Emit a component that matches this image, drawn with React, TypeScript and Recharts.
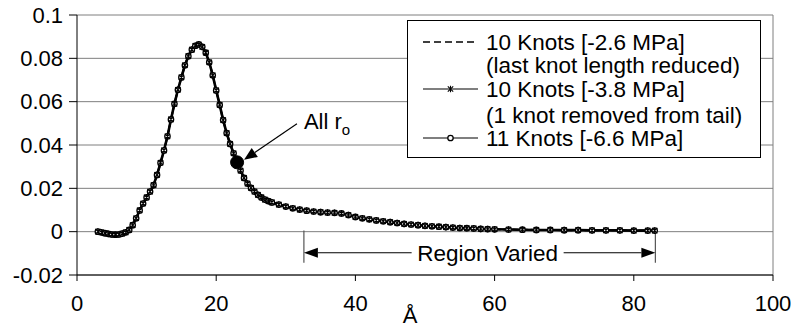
import React from 'react';
import {
  ComposedChart,
  Line,
  XAxis,
  YAxis,
  CartesianGrid,
  Legend,
  ReferenceLine,
  Label,
} from 'recharts';

const FONT = '"Liberation Sans", Arial, Helvetica, sans-serif';

// Distance (Å)
const angstrom = [
  3, 3.5, 4, 4.5, 5, 5.5, 6, 6.5, 7, 7.5,
  8, 8.5, 9, 9.5, 10, 10.5, 11, 11.5, 12, 12.5,
  13, 13.5, 14, 14.5, 15, 15.5, 16, 16.5, 17, 17.5,
  18, 18.5, 19, 19.5, 20, 20.5, 21, 21.5, 22, 22.5,
  23, 23.5, 24, 24.5, 25, 25.5, 26, 26.5, 27, 27.5,
  28, 29, 30, 31, 32, 33, 34, 35, 36, 37,
  38, 39, 40, 41, 42, 43, 44, 45, 46, 47,
  48, 49, 50, 51, 52, 53, 54, 55, 56, 57,
  58, 59, 60, 62, 64, 66, 68, 70, 72, 74,
  76, 78, 80, 82, 83,
];

// Values (the three curves overlap completely)
const knots10Reduced = [
  0.0, -0.0003, -0.0007, -0.001, -0.0013, -0.0014, -0.0013, -0.0009, -0.0003, 0.0008,
  0.003, 0.0062, 0.0098, 0.013, 0.0158, 0.0185, 0.0215, 0.0262, 0.0318, 0.0375,
  0.044, 0.0518, 0.059, 0.0655, 0.0712, 0.0768, 0.081, 0.084, 0.0858, 0.0864,
  0.0853, 0.0826, 0.0782, 0.0722, 0.0652, 0.0585, 0.0515, 0.0455, 0.0405, 0.0362,
  0.032, 0.0282, 0.0248, 0.0222, 0.0202, 0.0185, 0.017, 0.0158, 0.0148, 0.0141,
  0.0135, 0.0125, 0.0116, 0.0108, 0.0102, 0.0097, 0.0093, 0.009, 0.0088, 0.0087,
  0.0084, 0.0077, 0.0068, 0.0062, 0.0057, 0.0052, 0.0048, 0.0044, 0.004, 0.0036,
  0.0033, 0.003, 0.0027, 0.0025, 0.0023, 0.0021, 0.0019, 0.0017, 0.0016, 0.0015,
  0.0013, 0.0012, 0.0011, 0.001, 0.0009, 0.0008, 0.0008, 0.0007, 0.0007, 0.0006,
  0.0006, 0.0006, 0.0005, 0.0005, 0.0005,
];
const knots10Removed = [
  0.0, -0.0003, -0.0007, -0.001, -0.0013, -0.0014, -0.0013, -0.0009, -0.0003, 0.0008,
  0.003, 0.0062, 0.0098, 0.013, 0.0158, 0.0185, 0.0215, 0.0262, 0.0318, 0.0375,
  0.044, 0.0518, 0.059, 0.0655, 0.0712, 0.0768, 0.081, 0.084, 0.0858, 0.0864,
  0.0853, 0.0826, 0.0782, 0.0722, 0.0652, 0.0585, 0.0515, 0.0455, 0.0405, 0.0362,
  0.032, 0.0282, 0.0248, 0.0222, 0.0202, 0.0185, 0.017, 0.0158, 0.0148, 0.0141,
  0.0135, 0.0125, 0.0116, 0.0108, 0.0102, 0.0097, 0.0093, 0.009, 0.0088, 0.0087,
  0.0084, 0.0077, 0.0068, 0.0062, 0.0057, 0.0052, 0.0048, 0.0044, 0.004, 0.0036,
  0.0033, 0.003, 0.0027, 0.0025, 0.0023, 0.0021, 0.0019, 0.0017, 0.0016, 0.0015,
  0.0013, 0.0012, 0.0011, 0.001, 0.0009, 0.0008, 0.0008, 0.0007, 0.0007, 0.0006,
  0.0006, 0.0006, 0.0005, 0.0005, 0.0005,
];
const knots11 = [
  0.0, -0.0003, -0.0007, -0.001, -0.0013, -0.0014, -0.0013, -0.0009, -0.0003, 0.0008,
  0.003, 0.0062, 0.0098, 0.013, 0.0158, 0.0185, 0.0215, 0.0262, 0.0318, 0.0375,
  0.044, 0.0518, 0.059, 0.0655, 0.0712, 0.0768, 0.081, 0.084, 0.0858, 0.0864,
  0.0853, 0.0826, 0.0782, 0.0722, 0.0652, 0.0585, 0.0515, 0.0455, 0.0405, 0.0362,
  0.032, 0.0282, 0.0248, 0.0222, 0.0202, 0.0185, 0.017, 0.0158, 0.0148, 0.0141,
  0.0135, 0.0125, 0.0116, 0.0108, 0.0102, 0.0097, 0.0093, 0.009, 0.0088, 0.0087,
  0.0084, 0.0077, 0.0068, 0.0062, 0.0057, 0.0052, 0.0048, 0.0044, 0.004, 0.0036,
  0.0033, 0.003, 0.0027, 0.0025, 0.0023, 0.0021, 0.0019, 0.0017, 0.0016, 0.0015,
  0.0013, 0.0012, 0.0011, 0.001, 0.0009, 0.0008, 0.0008, 0.0007, 0.0007, 0.0006,
  0.0006, 0.0006, 0.0005, 0.0005, 0.0005,
];

const xTicks = [0, 20, 40, 60, 80, 100];
const yTicks = [-0.02, 0, 0.02, 0.04, 0.06, 0.08, 0.1];

const legendLines = [
  ['10 Knots [-2.6 MPa]', '(last knot length reduced)'],
  ['10 Knots [-3.8 MPa]', '(1 knot removed from tail)'],
  ['11 Knots [-6.6 MPa]'],
];

// The highlighted "All r_o" point lies on the curve at x = 23 Å
const allRoX = 23;
const allRoArrow = [{ x: 31.6, y: 0.0498 }, { x: 24.0, y: 0.0332 }];
const regionVaried = { from: 32.6, to: 83.1, top: 0.0005, bottom: -0.0143, arrowY: -0.0097 };

const data = angstrom.map((x, i) => ({
  x,
  a: knots10Reduced[i],
  b: knots10Removed[i],
  c: knots11[i],
}));

const CircleDot = (props: any) => {
  const { cx, cy, index, payload } = props;
  if (cx == null || cy == null) return null;
  if (payload && payload.x === allRoX) {
    return <circle key={`c${index}`} cx={cx} cy={cy} r={6.5} fill="#000" stroke="#000" />;
  }
  return (
    <circle key={`c${index}`} cx={cx} cy={cy} r={2.7} fill="#fff" stroke="#000" strokeWidth={1.3} />
  );
};

const StarDot = (props: any) => {
  const { cx, cy, index } = props;
  if (cx == null || cy == null) return null;
  const s = 2.7;
  return (
    <path
      key={`s${index}`}
      d={`M${cx - s},${cy - s}L${cx + s},${cy + s}M${cx - s},${cy + s}L${cx + s},${cy - s}M${cx},${cy - s - 0.6}L${cx},${cy + s + 0.6}`}
      stroke="#000"
      strokeWidth={1.1}
      fill="none"
    />
  );
};

const PointerArrow = (props: any) => {
  const { x1, y1, x2, y2 } = props;
  const ang = Math.atan2(y2 - y1, x2 - x1);
  const L = 13;
  const W = 5.5;
  const bx = x2 - L * Math.cos(ang);
  const by = y2 - L * Math.sin(ang);
  const px = -Math.sin(ang) * W;
  const py = Math.cos(ang) * W;
  return (
    <g>
      <line x1={x1} y1={y1} x2={bx} y2={by} stroke="#000" strokeWidth={1.2} />
      <polygon points={`${x2},${y2} ${bx + px},${by + py} ${bx - px},${by - py}`} fill="#000" />
      <text x={x1 + 7} y={y1 + 5} fontSize={22} fontFamily={FONT} fill="#000">
        All r
        <tspan fontSize={15} dy={6}>o</tspan>
      </text>
    </g>
  );
};

const SpanArrow = (props: any) => {
  const { x1, y1, x2 } = props;
  const L = 14;
  const W = 5;
  const cx = (x1 + x2) / 2 + 8;
  const gap = 76;
  return (
    <g>
      <line x1={x1 + L} y1={y1} x2={cx - gap} y2={y1} stroke="#000" strokeWidth={1.1} />
      <line x1={cx + gap} y1={y1} x2={x2 - L} y2={y1} stroke="#000" strokeWidth={1.1} />
      <polygon points={`${x1},${y1} ${x1 + L},${y1 - W} ${x1 + L},${y1 + W}`} fill="#000" />
      <polygon points={`${x2},${y1} ${x2 - L},${y1 - W} ${x2 - L},${y1 + W}`} fill="#000" />
      <text x={cx} y={y1 + 8} textAnchor="middle" fontSize={22.5} fontFamily={FONT} fill="#000">
        Region Varied
      </text>
    </g>
  );
};

const LegendBox = () => {
  const rowsY = [22, 45, 69, 95, 118];
  const textX = 79;
  const labels = [legendLines[0][0], legendLines[0][1], legendLines[1][0], legendLines[1][1], legendLines[2][0]];
  return (
    <svg width={354} height={138} style={{ display: 'block' }}>
      <rect x={0.5} y={0.5} width={353} height={137} fill="#fff" stroke="#000" strokeWidth={1} />
      <line x1={16} x2={71} y1={rowsY[0]} y2={rowsY[0]} stroke="#000" strokeWidth={1.6} strokeDasharray="7 4" />
      <line x1={16} x2={71} y1={rowsY[2]} y2={rowsY[2]} stroke="#000" strokeWidth={1.1} />
      <StarDot cx={43.5} cy={rowsY[2]} index={0} />
      <line x1={16} x2={71} y1={rowsY[4]} y2={rowsY[4]} stroke="#000" strokeWidth={1.1} />
      <CircleDot cx={43.5} cy={rowsY[4]} index={0} />
      {labels.map((t, i) => (
        <text key={i} x={textX} y={rowsY[i] + 8} fontSize={22.5} fontFamily={FONT} fill="#000">
          {t}
        </text>
      ))}
    </svg>
  );
};

export default function App() {
  return (
    <div style={{ position: 'absolute', left: 0, top: 0, background: '#fff' }}>
      <ComposedChart
        width={792}
        height={328}
        data={data}
        margin={{ top: 15, right: 19, bottom: 0, left: 0 }}
        style={{ fontFamily: FONT }}
      >
        <CartesianGrid vertical={false} stroke="#7f7f7f" strokeWidth={1} />
        <XAxis
          dataKey="x"
          type="number"
          domain={[0, 100]}
          ticks={xTicks}
          allowDataOverflow
          height={53}
          tickSize={6}
          tickMargin={14}
          axisLine={{ stroke: '#000', strokeWidth: 1 }}
          tickLine={{ stroke: '#000' }}
          tick={{ fill: '#000', fontSize: 22, fontFamily: FONT }}
        >
          <Label
            content={(p: any) => {
              const vb = p.viewBox || { x: 77, y: 275, width: 696, height: 53 };
              return (
                <text x={vb.x + vb.width / 2 - 15} y={vb.y + vb.height - 5} textAnchor="middle" fontSize={22} fontFamily={FONT} fill="#000">
                  Å
                </text>
              );
            }}
          />
        </XAxis>
        <YAxis
          type="number"
          domain={[-0.02, 0.1]}
          ticks={yTicks}
          width={77}
          tickSize={8}
          tickMargin={6}
          axisLine={{ stroke: '#000', strokeWidth: 1 }}
          tickLine={{ stroke: '#000' }}
          tick={{ fill: '#000', fontSize: 22, fontFamily: FONT }}
          tickFormatter={(v: number) => String(v)}
        />
        <ReferenceLine x={100} stroke="#7f7f7f" strokeWidth={1} />
        <Line
          dataKey="c"
          type="linear"
          stroke="#000"
          strokeWidth={2.6}
          dot={CircleDot}
          isAnimationActive={false}
          name={legendLines[2][0]}
        />
        <Line
          dataKey="b"
          type="linear"
          stroke="#000"
          strokeWidth={1.5}
          dot={StarDot}
          isAnimationActive={false}
          name={legendLines[1][0]}
        />
        <Line
          dataKey="a"
          type="linear"
          stroke="#000"
          strokeWidth={2}
          strokeDasharray="6 3"
          dot={false}
          isAnimationActive={false}
          name={legendLines[0][0]}
        />
        <ReferenceLine segment={allRoArrow} shape={PointerArrow} />
        <ReferenceLine
          segment={[
            { x: regionVaried.from, y: regionVaried.top },
            { x: regionVaried.from, y: regionVaried.bottom },
          ]}
          stroke="#555"
          strokeWidth={1.2}
        />
        <ReferenceLine
          segment={[
            { x: regionVaried.to, y: regionVaried.top },
            { x: regionVaried.to, y: regionVaried.bottom },
          ]}
          stroke="#555"
          strokeWidth={1.2}
        />
        <ReferenceLine
          segment={[
            { x: regionVaried.from, y: regionVaried.arrowY },
            { x: regionVaried.to, y: regionVaried.arrowY },
          ]}
          shape={SpanArrow}
        />
        <Legend
          content={LegendBox}
          layout="vertical"
          align="center"
          verticalAlign="middle"
          wrapperStyle={{ left: 407, top: 20, width: 354, height: 138 }}
        />
      </ComposedChart>
    </div>
  );
}
